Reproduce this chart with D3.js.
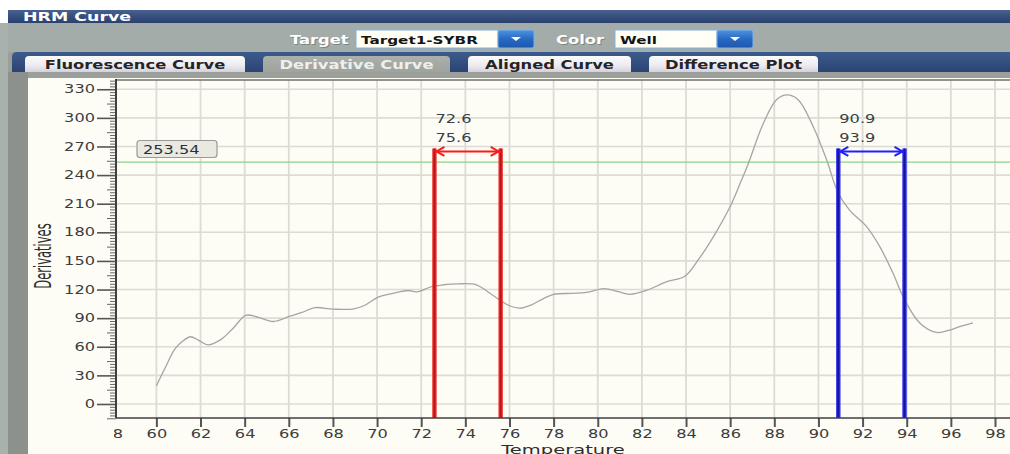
<!DOCTYPE html>
<html>
<head>
<meta charset="utf-8">
<script src="https://cdn.jsdelivr.net/npm/d3@7"></script>
<style>
  html, body { margin: 0; padding: 0; background: #ffffff; }
  svg { display: block; }
  text { font-family: "DejaVu Sans", sans-serif; }
</style>
</head>
<body>
<svg id="chart" width="1010" height="454"></svg>
<script>
// ---- data ----
const temps = [60.0, 60.4, 60.85, 61.2, 61.55, 61.9, 62.35, 62.95, 63.5, 64.05, 64.6, 65.3, 66.05, 66.6,
  67.18, 68.0, 68.9, 69.4, 70.05, 70.73, 71.4, 71.8, 72.47, 73.0, 73.67, 74.5, 75.0, 75.56, 76.0,
  76.47, 77.0, 77.5, 78.0, 78.8, 79.49, 80.3, 80.9, 81.45, 82.2, 83.1, 83.95, 84.55, 85.23, 86.0,
  86.5, 86.82, 87.5, 88.1, 88.58, 89.08, 89.76, 90.37, 90.9, 91.42, 92.18, 92.78, 93.38, 93.91,
  94.59, 95.35, 95.95, 96.4, 97.0];
const derivs = [19, 38, 58, 66, 70.5, 67, 62, 68, 80, 93, 91, 86.5, 92, 96,
  101, 99.5, 99.5, 103, 112, 116, 119, 117.5, 123, 125, 126, 125, 118, 109, 103,
  100.5, 104, 110, 115, 116, 117, 121, 118, 115, 119, 128, 134, 151, 175, 207,
  234, 252, 294, 319, 324, 319, 291, 256, 221, 203, 186, 165, 137, 109,
  85, 75, 77.5, 81, 85];

const threshold = 253.54;
const redMarkers = [72.6, 75.6];
const blueMarkers = [90.9, 93.9];
const markerTopValue = 268;

const xTickValues = d3.range(58, 99, 2);
const yTickValues = d3.range(0, 331, 30);
const tabNames = ["Fluorescence Curve", "Derivative Curve", "Aligned Curve", "Difference Plot"];
const targetName = "Target1-SYBR";
const colorName = "Well";

// ---- layout ----
const W = 1010, H = 454;
const SX = 1.42;               // horizontal glyph stretch used by this UI's fonts
const plot = { left: 116, right: 1010, top: 80, bottom: 418 };

const svg = d3.select("#chart");
const defs = svg.append("defs");

function grad(id, stops) {
  const g = defs.append("linearGradient").attr("id", id)
    .attr("x1", 0).attr("y1", 0).attr("x2", 0).attr("y2", 1);
  stops.forEach(([o, c]) => g.append("stop").attr("offset", o).attr("stop-color", c));
}
grad("hdr", [[0, "#48628f"], [0.5, "#364f7e"], [1, "#2b416d"]]);
grad("band", [[0, "#3d5b8c"], [1, "#2a4473"]]);
grad("tabOff", [[0, "#fbfbfb"], [0.6, "#ecebef"], [1, "#d7cfe0"]]);
grad("tabOn", [[0, "#acb0aa"], [1, "#9ea39d"]]);
grad("btn", [[0, "#4f93e0"], [0.5, "#2769c4"], [1, "#1e58ad"]]);

function stext(parent, x, y, str, o = {}) {
  return parent.append("text")
    .attr("transform", `translate(${x},${y}) scale(${o.sx || SX},1)`)
    .attr("text-anchor", o.anchor || "start")
    .attr("font-size", o.size || 11.5)
    .attr("font-weight", o.weight || "normal")
    .attr("fill", o.fill || "#333")
    .text(str);
}

function topRounded(x, y, w, h, r) {
  return `M${x},${y + h} L${x},${y + r} Q${x},${y} ${x + r},${y} L${x + w - r},${y} Q${x + w},${y} ${x + w},${y + r} L${x + w},${y + h} Z`;
}

// ---- window chrome ----
svg.append("rect").attr("width", W).attr("height", H).attr("fill", "#ffffff");
svg.append("rect").attr("x", 0).attr("y", 23).attr("width", 8).attr("height", H - 23).attr("fill", "#a9b1ad");
svg.append("rect").attr("x", 8).attr("y", 10).attr("width", W - 8).attr("height", 13).attr("fill", "url(#hdr)");
stext(svg, 23, 21, "HRM Curve", { size: 12, weight: "bold", fill: "#ffffff", sx: 1.45 });

svg.append("rect").attr("x", 8).attr("y", 23).attr("width", W - 8).attr("height", 29).attr("fill", "#a3aca8");

// combo boxes
function combo(label, lx, bx, bw, value) {
  stext(svg, lx + 1, 45, label, { size: 11.5, weight: "bold", fill: "#7d8580" });
  stext(svg, lx, 44, label, { size: 11.5, weight: "bold", fill: "#ffffff" });
  svg.append("rect").attr("x", bx).attr("y", 30).attr("width", bw).attr("height", 18)
    .attr("fill", "#fffff6").attr("stroke", "#7fb3e6").attr("stroke-width", 1);
  svg.append("rect").attr("x", bx + bw).attr("y", 30).attr("width", 36).attr("height", 18)
    .attr("rx", 2).attr("fill", "url(#btn)").attr("stroke", "#7fb3e6");
  const cx = bx + bw + 18;
  svg.append("path").attr("d", `M${cx - 5},37 L${cx + 5},37 L${cx},41 Z`).attr("fill", "#ffffff");
  stext(svg, bx + 5, 44, value, { size: 11.2, weight: "bold", fill: "#151515", sx: 1.36 });
}
combo("Target", 290, 356, 142, targetName);
combo("Color", 556, 615, 102, colorName);

// tab band
svg.append("rect").attr("x", 8).attr("y", 52).attr("width", W - 8).attr("height", H - 52).attr("fill", "#9b9f9a");
svg.append("path").attr("d", topRounded(12, 52, W - 12 + 6, 20, 5)).attr("fill", "url(#band)");

const tabs = [[25, 245], [263, 450], [468, 631], [649, 818]];
tabNames.forEach((name, i) => {
  const [a, b] = tabs[i];
  const on = i === 1;
  svg.append("path").attr("d", topRounded(a, 56, b - a, 16, 4))
    .attr("fill", on ? "url(#tabOn)" : "url(#tabOff)");
  stext(svg, (a + b) / 2, 69, name, {
    anchor: "middle", size: 11.5, weight: "bold", fill: on ? "#eef0ee" : "#242424"
  });
});

// chart panel
svg.append("rect").attr("x", 8).attr("y", 72).attr("width", 20).attr("height", H - 72).attr("fill", "#8d918c");
svg.append("rect").attr("x", 28).attr("y", 78).attr("width", W - 28).attr("height", H - 78).attr("fill", "#fdfdf6");

// ---- scales ----
const x = d3.scaleLinear().domain([58.17, 98.68]).range([plot.left, plot.right]);
const y = d3.scaleLinear().domain([-14.7, 339.7]).range([plot.bottom, plot.top]);

// grid
const grid = svg.append("g");
grid.selectAll("line.v").data(xTickValues.filter(d => x(d) > plot.left + 2)).join("line")
  .attr("x1", d => x(d)).attr("x2", d => x(d)).attr("y1", plot.top).attr("y2", plot.bottom)
  .attr("stroke", "#dcdcd4").attr("stroke-width", 1.8);
grid.selectAll("line.h").data(yTickValues).join("line")
  .attr("x1", plot.left).attr("x2", plot.right).attr("y1", d => y(d)).attr("y2", d => y(d))
  .attr("stroke", "#dcdcd4").attr("stroke-width", 1.6);

// top border of plot
svg.append("line").attr("x1", plot.left).attr("x2", plot.right).attr("y1", plot.top).attr("y2", plot.top)
  .attr("stroke", "#6e706c").attr("stroke-width", 1.5);

// threshold line + value tag
svg.append("line").attr("x1", plot.left).attr("x2", plot.right)
  .attr("y1", y(threshold)).attr("y2", y(threshold))
  .attr("stroke", "#86d686").attr("stroke-width", 1.2);
svg.append("rect").attr("x", 137).attr("y", 140.5).attr("width", 80).attr("height", 17).attr("rx", 3)
  .attr("fill", "#e9e9e1").attr("stroke", "#9a9a94").attr("stroke-width", 1.2);
stext(svg, 143, 154, threshold.toFixed(2), { size: 11.4, fill: "#26303e" });

// derivative curve
const pts = temps.map((t, i) => [t, derivs[i]]);
svg.append("path").datum(pts)
  .attr("d", d3.line().x(d => x(d[0])).y(d => y(d[1])).curve(d3.curveCatmullRom.alpha(0.5)))
  .attr("fill", "none").attr("stroke", "#a5a5a2").attr("stroke-width", 1.3);

// melt region markers
function markerPair(vals, outer, inner, arrowColor) {
  const g = svg.append("g");
  const top = y(markerTopValue);
  const arrowY = top + 3;
  vals.forEach(v => {
    g.append("line").attr("x1", x(v)).attr("x2", x(v)).attr("y1", top).attr("y2", plot.bottom)
      .attr("stroke", outer).attr("stroke-width", 4.5);
    g.append("line").attr("x1", x(v)).attr("x2", x(v)).attr("y1", top).attr("y2", plot.bottom)
      .attr("stroke", inner).attr("stroke-width", 2);
  });
  const xa = x(vals[0]), xb = x(vals[1]);
  g.append("line").attr("x1", xa).attr("x2", xb).attr("y1", arrowY).attr("y2", arrowY)
    .attr("stroke", arrowColor).attr("stroke-width", 2);
  g.append("path").attr("d", `M${xa + 10},${arrowY - 4.5} L${xa + 2},${arrowY} L${xa + 10},${arrowY + 4.5}`)
    .attr("fill", "none").attr("stroke", arrowColor).attr("stroke-width", 2);
  g.append("path").attr("d", `M${xb - 10},${arrowY - 4.5} L${xb - 2},${arrowY} L${xb - 10},${arrowY + 4.5}`)
    .attr("fill", "none").attr("stroke", arrowColor).attr("stroke-width", 2);
  stext(g, xa + 1, top - 25, vals[0].toFixed(1), { size: 11.4, fill: "#3a3f48" });
  stext(g, xa + 1, top - 6.5, vals[1].toFixed(1), { size: 11.4, fill: "#3a3f48" });
}
markerPair(redMarkers, "#f03a3a", "#b81414", "#ff1a1a");
markerPair(blueMarkers, "#3c3cf0", "#12129e", "#1f1fff");

// ---- axes ----
// clip box is in the axis group's own coordinates (origin at the x-axis line)
defs.append("clipPath").attr("id", "xclip").append("rect")
  .attr("x", plot.left - 2).attr("y", -2).attr("width", W).attr("height", 40);

const xAxis = svg.append("g").attr("transform", `translate(0,${plot.bottom})`).attr("clip-path", "url(#xclip)")
  .call(d3.axisBottom(x).tickValues(xTickValues).tickSize(9).tickPadding(3).tickFormat(d3.format("d")));
xAxis.select(".domain").remove();
xAxis.selectAll(".tick line").attr("stroke", "#555").attr("stroke-width", 2);
xAxis.selectAll(".tick text").attr("font-family", "DejaVu Sans").attr("font-size", 11.4)
  .attr("fill", "#3c3c3c").attr("transform", `scale(${SX},1)`).attr("y", 11.5);

const yMinor = d3.range(-12, 340, 3).filter(d => d % 15 !== 0);
const yMid = d3.range(-15, 340, 15).filter(d => d % 30 !== 0);
[[yMinor, 6], [yMid, 9]].forEach(([vals, len]) => {
  const a = svg.append("g").attr("transform", `translate(${plot.left},0)`)
    .call(d3.axisLeft(y).tickValues(vals).tickSize(len).tickFormat(""));
  a.select(".domain").remove();
  a.selectAll(".tick line").attr("stroke", "#666").attr("stroke-width", 1);
});
const yAxis = svg.append("g").attr("transform", `translate(${plot.left},0)`)
  .call(d3.axisLeft(y).tickValues(yTickValues).tickSize(19).tickPadding(2).tickFormat(d3.format("d")));
yAxis.select(".domain").remove();
yAxis.selectAll(".tick line").attr("stroke", "#555").attr("stroke-width", 1.6);
yAxis.selectAll(".tick text").attr("font-family", "DejaVu Sans").attr("font-size", 11.4)
  .attr("fill", "#3c3c3c").attr("x", -21 / SX).attr("transform", `scale(${SX},1)`);

svg.append("line").attr("x1", plot.left).attr("x2", plot.left).attr("y1", plot.top - 1).attr("y2", plot.bottom)
  .attr("stroke", "#3f3f3f").attr("stroke-width", 2);
svg.append("line").attr("x1", plot.left).attr("x2", plot.right).attr("y1", plot.bottom).attr("y2", plot.bottom)
  .attr("stroke", "#3f3f3f").attr("stroke-width", 1.6);

// axis titles
stext(svg, (plot.left + plot.right) / 2, 453.5, "Temperature", { anchor: "middle", size: 13, fill: "#2e2e2e", sx: 1.5 });
svg.append("text")
  .attr("transform", `translate(51,256) rotate(-90) scale(0.72,1.45)`)
  .attr("text-anchor", "middle").attr("font-family", "Liberation Sans").attr("font-size", 16)
  .attr("fill", "#2e2e2e").text("Derivatives");
</script>
</body>
</html>
